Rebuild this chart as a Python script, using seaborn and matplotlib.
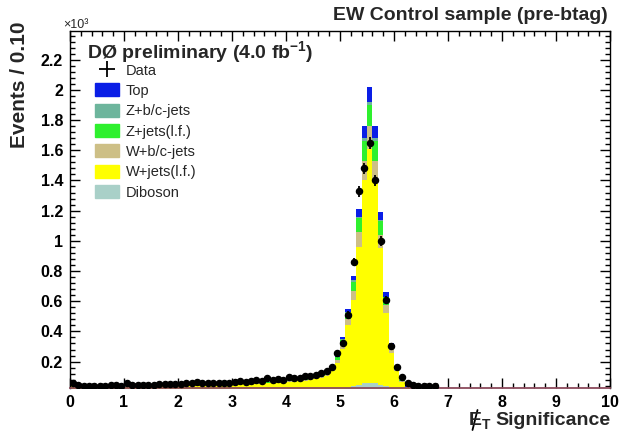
import numpy as np
import pandas as pd
import matplotlib
matplotlib.use("Agg")
import matplotlib.pyplot as plt
import seaborn as sns
from matplotlib.patches import Patch
from matplotlib.lines import Line2D
from matplotlib.ticker import MultipleLocator, FuncFormatter

# Missing-ET significance, bins of width 0.10, event counts in units of 10^3
bin_edges = [round(0.1 * i, 2) for i in range(69)]

data_counts = [
    0.060, 0.042, 0.040, 0.039, 0.040, 0.041, 0.040, 0.042, 0.043, 0.040,
    0.056, 0.043, 0.046, 0.047, 0.048, 0.047, 0.050, 0.051, 0.050, 0.053,
    0.052, 0.056, 0.055, 0.062, 0.060, 0.058, 0.057, 0.056, 0.060, 0.061,
    0.068, 0.072, 0.067, 0.070, 0.075, 0.073, 0.088, 0.079, 0.084, 0.081,
    0.098, 0.094, 0.092, 0.106, 0.102, 0.110, 0.124, 0.136, 0.165, 0.255,
    0.320, 0.510, 0.860, 1.330, 1.480, 1.650, 1.400, 1.000, 0.610, 0.300,
    0.165, 0.100, 0.058, 0.042, 0.038, 0.037, 0.036, 0.035,
]

top = [
    0.001, 0.001, 0.001, 0.001, 0.001, 0.001, 0.001, 0.001, 0.001, 0.001,
    0.001, 0.001, 0.001, 0.001, 0.001, 0.001, 0.001, 0.001, 0.001, 0.001,
    0.001, 0.002, 0.002, 0.002, 0.002, 0.002, 0.002, 0.002, 0.002, 0.002,
    0.002, 0.002, 0.002, 0.002, 0.002, 0.002, 0.002, 0.002, 0.002, 0.002,
    0.002, 0.003, 0.003, 0.003, 0.003, 0.003, 0.003, 0.004, 0.005, 0.008,
    0.012, 0.020, 0.030, 0.050, 0.080, 0.100, 0.080, 0.050, 0.030, 0.010,
    0.005, 0.002, 0.001, 0.0005, 0.0, 0.0, 0.0, 0.0,
]

z_bc = [
    0.001, 0.001, 0.001, 0.001, 0.001, 0.001, 0.001, 0.001, 0.001, 0.001,
    0.001, 0.001, 0.001, 0.001, 0.001, 0.001, 0.001, 0.001, 0.001, 0.001,
    0.001, 0.001, 0.001, 0.001, 0.001, 0.001, 0.001, 0.001, 0.001, 0.001,
    0.001, 0.001, 0.001, 0.001, 0.001, 0.001, 0.001, 0.001, 0.001, 0.001,
    0.001, 0.001, 0.001, 0.001, 0.001, 0.001, 0.001, 0.001, 0.002, 0.004,
    0.005, 0.005, 0.010, 0.010, 0.020, 0.020, 0.020, 0.010, 0.005, 0.005,
    0.003, 0.001, 0.0005, 0.0, 0.0, 0.0, 0.0, 0.0,
]

z_lf = [
    0.004, 0.002, 0.002, 0.002, 0.002, 0.002, 0.002, 0.002, 0.002, 0.002,
    0.003, 0.003, 0.003, 0.003, 0.003, 0.003, 0.003, 0.003, 0.003, 0.003,
    0.003, 0.003, 0.003, 0.003, 0.004, 0.004, 0.004, 0.004, 0.004, 0.004,
    0.004, 0.004, 0.004, 0.004, 0.004, 0.005, 0.005, 0.005, 0.005, 0.005,
    0.005, 0.006, 0.006, 0.006, 0.007, 0.007, 0.008, 0.009, 0.013, 0.020,
    0.030, 0.045, 0.060, 0.090, 0.130, 0.140, 0.130, 0.090, 0.050, 0.025,
    0.012, 0.006, 0.003, 0.0015, 0.0005, 0.0, 0.0, 0.0,
]

w_bc = [
    0.006, 0.002, 0.002, 0.002, 0.002, 0.002, 0.002, 0.002, 0.002, 0.002,
    0.002, 0.002, 0.002, 0.002, 0.003, 0.003, 0.003, 0.003, 0.003, 0.003,
    0.003, 0.003, 0.003, 0.003, 0.003, 0.003, 0.003, 0.003, 0.003, 0.003,
    0.003, 0.003, 0.004, 0.004, 0.004, 0.004, 0.004, 0.004, 0.004, 0.005,
    0.005, 0.005, 0.005, 0.005, 0.006, 0.006, 0.007, 0.008, 0.012, 0.020,
    0.030, 0.040, 0.060, 0.100, 0.130, 0.150, 0.130, 0.090, 0.050, 0.025,
    0.012, 0.006, 0.003, 0.001, 0.0005, 0.0, 0.0, 0.0,
]

w_lf = [
    0.037, 0.027, 0.025, 0.025, 0.026, 0.026, 0.027, 0.027, 0.028, 0.028,
    0.028, 0.029, 0.030, 0.031, 0.031, 0.032, 0.033, 0.034, 0.035, 0.036,
    0.037, 0.036, 0.037, 0.038, 0.038, 0.039, 0.040, 0.041, 0.042, 0.043,
    0.045, 0.047, 0.047, 0.049, 0.051, 0.052, 0.054, 0.056, 0.058, 0.060,
    0.063, 0.064, 0.068, 0.072, 0.075, 0.080, 0.088, 0.099, 0.133, 0.180,
    0.263, 0.415, 0.575, 0.915, 1.345, 1.550, 1.345, 0.905, 0.490, 0.235,
    0.123, 0.060, 0.0255, 0.011, 0.0045, 0.002, 0.0, 0.0,
]

diboson = [
    0.001, 0.001, 0.001, 0.001, 0.001, 0.001, 0.001, 0.001, 0.001, 0.001,
    0.001, 0.001, 0.001, 0.001, 0.001, 0.001, 0.001, 0.001, 0.001, 0.001,
    0.001, 0.002, 0.002, 0.002, 0.002, 0.002, 0.002, 0.002, 0.002, 0.002,
    0.002, 0.002, 0.002, 0.002, 0.002, 0.002, 0.002, 0.002, 0.002, 0.002,
    0.002, 0.002, 0.002, 0.002, 0.002, 0.003, 0.003, 0.004, 0.005, 0.008,
    0.020, 0.025, 0.035, 0.045, 0.055, 0.060, 0.055, 0.045, 0.035, 0.025,
    0.015, 0.005, 0.002, 0.001, 0.0005, 0.0, 0.0, 0.0,
]

processes = ["Top", "Z+b/c-jets", "Z+jets(l.f.)", "W+b/c-jets", "W+jets(l.f.)", "Diboson"]
colors = ["#0a1ee6", "#6db59c", "#2ef02e", "#cdbf86", "#ffff00", "#a9d0c8"]

# ---------------------------------------------------------------- style
sns.set_style("ticks")
plt.rcParams["font.family"] = ["Liberation Sans", "DejaVu Sans"]
plt.rcParams["font.weight"] = "bold"
plt.rcParams["mathtext.fontset"] = "custom"
plt.rcParams["mathtext.rm"] = "Liberation Sans:bold"
plt.rcParams["mathtext.bf"] = "Liberation Sans:bold"
plt.rcParams["mathtext.it"] = "Liberation Sans:bold:italic"

W, H = 625, 433
fig = plt.figure(figsize=(W / 100, H / 100), dpi=100)
fig.patch.set_facecolor("white")
ax = fig.add_axes([70 / W, 45 / H, 540 / W, 357 / H])
ax.set_facecolor("white")

# ---------------------------------------------------------------- stacked MC
edges = np.asarray(bin_edges, dtype=float)
centers = (edges[:-1] + edges[1:]) / 2
n = len(centers)
components = [top, z_bc, z_lf, w_bc, w_lf, diboson]
mc = pd.DataFrame({
    "x": np.tile(centers, len(processes)),
    "w": np.concatenate([np.asarray(c, dtype=float) for c in components]),
    "process": np.repeat(processes, n),
})
sns.histplot(
    data=mc, x="x", weights="w", hue="process", hue_order=processes,
    palette=dict(zip(processes, colors)), multiple="stack",
    binwidth=0.1, binrange=(bin_edges[0], bin_edges[-1]),
    element="step", fill=True, alpha=1.0, linewidth=0, legend=False, ax=ax,
)

# ---------------------------------------------------------------- data
d = np.asarray(data_counts, dtype=float)
err = np.sqrt(d * 1000.0) / 1000.0
ax.errorbar(
    centers, d, xerr=0.05, yerr=err, fmt="o", ms=4.4, color="black",
    ecolor="black", elinewidth=1.3, capsize=0, zorder=5,
)

# ---------------------------------------------------------------- axes
ax.set_xlim(0, 10)
ax.set_ylim(0.025, 2.39)
ax.set_xlabel("")
ax.set_ylabel("")
ax.xaxis.set_major_locator(MultipleLocator(1))
ax.xaxis.set_minor_locator(MultipleLocator(0.2))
ax.yaxis.set_major_locator(MultipleLocator(0.2))
ax.yaxis.set_minor_locator(MultipleLocator(0.04))
fmt = FuncFormatter(lambda v, pos: f"{v:g}")
ax.xaxis.set_major_formatter(fmt)
ax.yaxis.set_major_formatter(fmt)
ax.tick_params(which="both", direction="in", top=True, right=True,
               colors="black", labelsize=11.5)
ax.tick_params(which="major", length=7, width=1)
ax.tick_params(which="minor", length=3.5, width=1)
ax.tick_params(axis="y", pad=5)
ax.tick_params(axis="x", pad=5)
for side in ["left", "right", "top"]:
    ax.spines[side].set_color("black")
    ax.spines[side].set_linewidth(1)
ax.spines["bottom"].set_color("#8b4a5c")
ax.spines["bottom"].set_linewidth(1.3)

# ---------------------------------------------------------------- texts
fig.text(608 / W, 1 - 20 / H, "EW Control sample (pre-btag)", ha="right",
         va="baseline", fontsize=14, fontweight="bold")
fig.text(63 / W, 1 - 28 / H, "×10³", ha="left", va="baseline",
         fontsize=9, fontweight="normal")
fig.text(20 / W, 1 - 22 / H, "Events / 0.10", rotation=90, ha="center",
         va="top", fontsize=15, fontweight="bold")
fig.text(87 / W, 1 - 58 / H, r"DØ preliminary (4.0 fb$^{-1}$)", ha="left",
         va="baseline", fontsize=14, fontweight="bold")

# x-axis title: E with a slash stroke, subscript T
renderer = fig.canvas.get_renderer()
base_y = 1 - 425 / H
t_sig = fig.text(610 / W, base_y, "Significance", ha="right", va="baseline",
                 fontsize=14, fontweight="bold")
bb = t_sig.get_window_extent(renderer)
t_T = fig.text((bb.x0 - 5) / W, 1 - 429 / H, "T", ha="right", va="baseline",
               fontsize=10, fontweight="bold")
bbT = t_T.get_window_extent(renderer)
t_E = fig.text(bbT.x0 / W, base_y, "E", ha="right", va="baseline",
               fontsize=14, fontweight="bold")
bbE = t_E.get_window_extent(renderer)
ex = (bbE.x0 + bbE.x1) / 2
# baseline sits 8 px above the figure bottom; cap height is about 14 px
slash = Line2D([(ex - 2.5) / W, (ex + 2.5) / W],
               [(H - 430) / H, (H - 410) / H],
               transform=fig.transFigure, color="black", lw=1.3)
fig.add_artist(slash)

# ---------------------------------------------------------------- legend
handles = [Line2D([0], [0], color="black", marker="+", ms=12, mew=1.3,
                  linestyle="None")]
handles += [Patch(facecolor=c, edgecolor=c) for c in colors]
labels = ["Data"] + processes
ax.legend(
    handles, labels, loc="upper left", bbox_to_anchor=(95 / W, 1 - 63 / H),
    bbox_transform=fig.transFigure, frameon=False,
    prop={"family": ["Liberation Sans", "DejaVu Sans"], "weight": "normal",
          "size": 10.5},
    handlelength=1.65, handleheight=1.0, handletextpad=0.45,
    labelspacing=0.40, borderpad=0, borderaxespad=0,
)

fig.savefig("out.png", dpi=100, facecolor="white")
